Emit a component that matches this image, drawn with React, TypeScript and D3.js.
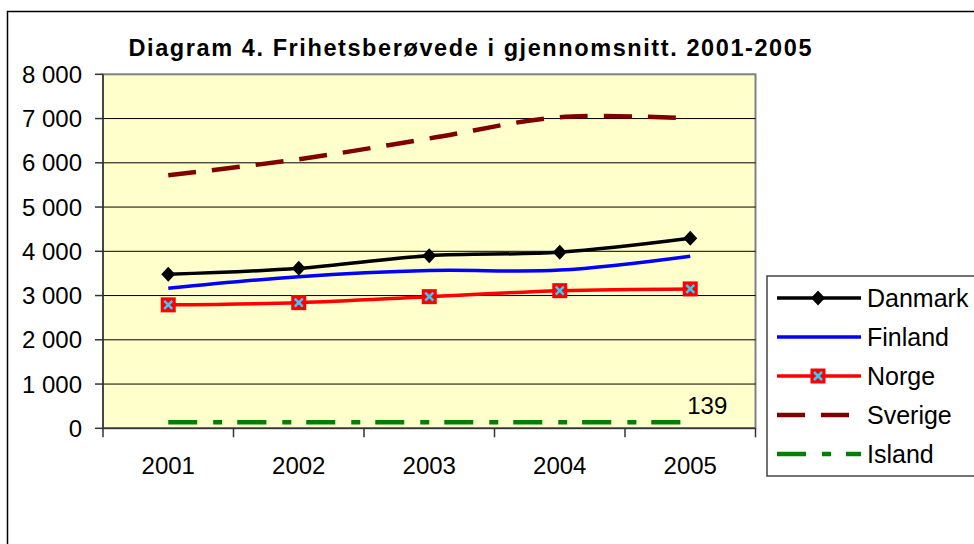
import React from 'react';
import * as d3 from 'd3';

const years = ['2001', '2002', '2003', '2004', '2005'];
const danmark = [3480, 3615, 3900, 3980, 4295];
const finland = [3165, 3425, 3565, 3575, 3890];
const norge = [2790, 2840, 2975, 3110, 3150];
const sverige = [5720, 6080, 6550, 7030, 7000];
const island = [139, 139, 139, 139, 139];
const yTicks = [0, 1000, 2000, 3000, 4000, 5000, 6000, 7000, 8000];
const islandLabel = '139';

const series = [
  { name: 'Danmark', values: danmark, color: '#000000', width: 3.5, dash: null, marker: 'diamond' },
  { name: 'Finland', values: finland, color: '#0000ff', width: 3.5, dash: null, marker: null },
  { name: 'Norge', values: norge, color: '#ff0000', width: 3.5, dash: null, marker: 'square' },
  { name: 'Sverige', values: sverige, color: '#800000', width: 4.5, dash: '28,16', marker: null },
  { name: 'Island', values: island, color: '#008000', width: 4.5, dash: '29,16,9,15', marker: null },
];

const font = 'Arial, "Liberation Sans", sans-serif';

const Marker = ({ type, x, y }) => {
  if (type === 'diamond') {
    return <path d={`M${x},${y - 7.5}L${x + 7},${y}L${x},${y + 7.5}L${x - 7},${y}Z`} fill="#000" />;
  }
  if (type === 'square') {
    return (
      <g>
        <rect x={x - 7.5} y={y - 7.5} width={15} height={15} fill="#ff0000" />
        <path d={`M${x - 4},${y - 4}L${x + 4},${y + 4}M${x + 4},${y - 4}L${x - 4},${y + 4}`} stroke="#33ccff" strokeWidth={2.5} />
      </g>
    );
  }
  return null;
};

const App = () => {
  const left = 103, right = 755.5, top = 74.3, bottom = 428.3;

  const x = d3.scaleBand().domain(years).range([left, right]);
  const y = d3.scaleLinear().domain([0, 8000]).range([bottom, top]);
  const cx = (yr) => x(yr) + x.bandwidth() / 2;

  const line = d3.line()
    .x((d, i) => cx(years[i]))
    .y(d => y(d))
    .curve(d3.curveCatmullRom.alpha(0));

  const boundaries = [left, ...years.slice(1).map(yr => x(yr)), right];

  const legX = 767, legY = 276, legW = 210, legH = 200;
  const legRowY = (i) => 298 + i * 39;

  return (
    <div style={{ position: 'absolute', left: 0, top: 0 }}>
      <svg width={974} height={544} style={{ display: 'block', fontFamily: font }}>
        <rect x={0} y={0} width={974} height={544} fill="#fff" />
        <rect x={7.5} y={11.5} width={1000} height={600} fill="none" stroke="#000" strokeWidth={1.5} />

        <text x={470} y={56} textAnchor="middle" fontSize={23.5} fontWeight="bold" textLength={683} lengthAdjust="spacing">
          Diagram 4. Frihetsberøvede i gjennomsnitt. 2001-2005
        </text>

        <rect x={left} y={top} width={right - left} height={bottom - top} fill="#ffffcc" stroke="#808080" strokeWidth={2} />

        {yTicks.filter(t => t > 0 && t < 8000).map(t => (
          <line key={t} x1={left} x2={right} y1={y(t)} y2={y(t)} stroke="#000" strokeWidth={1} />
        ))}

        {/* axes */}
        <line x1={left} x2={left} y1={top} y2={bottom} stroke="#333" strokeWidth={1.5} />
        <line x1={left} x2={right} y1={bottom} y2={bottom} stroke="#333" strokeWidth={1.5} />
        {yTicks.map(t => (
          <g key={t}>
            <line x1={left - 8} x2={left} y1={y(t)} y2={y(t)} stroke="#333" strokeWidth={1.5} />
            <text x={82} y={y(t) + 8.5} textAnchor="end" fontSize={24}>
              {d3.format(',')(t).replace(/,/g, ' ')}
            </text>
          </g>
        ))}
        {boundaries.map((b, i) => (
          <line key={i} x1={b} x2={b} y1={bottom} y2={bottom + 9} stroke="#333" strokeWidth={1.5} />
        ))}
        {years.map(yr => (
          <text key={yr} x={cx(yr)} y={474} textAnchor="middle" fontSize={24}>{yr}</text>
        ))}

        {/* series */}
        {series.map(s => (
          <path key={s.name} d={line(s.values)} fill="none" stroke={s.color} strokeWidth={s.width}
            strokeDasharray={s.dash || undefined} strokeLinejoin="round" />
        ))}
        {series.filter(s => s.marker).map(s => (
          s.values.map((v, i) => <Marker key={s.name + i} type={s.marker} x={cx(years[i])} y={y(v)} />)
        ))}

        <text x={cx('2005') - 3} y={y(island[4]) - 8} fontSize={24}>{islandLabel}</text>

        {/* legend */}
        <rect x={legX} y={legY} width={legW} height={legH} fill="#fff" stroke="#444" strokeWidth={1.5} />
        {series.map((s, i) => (
          <g key={s.name}>
            <line x1={777} x2={861} y1={legRowY(i)} y2={legRowY(i)} stroke={s.color}
              strokeWidth={s.width} strokeDasharray={s.dash || undefined} />
            <Marker type={s.marker} x={818} y={legRowY(i)} />
            <text x={867} y={legRowY(i) + 9} fontSize={25}>{s.name}</text>
          </g>
        ))}
      </svg>
    </div>
  );
};

export default App;
